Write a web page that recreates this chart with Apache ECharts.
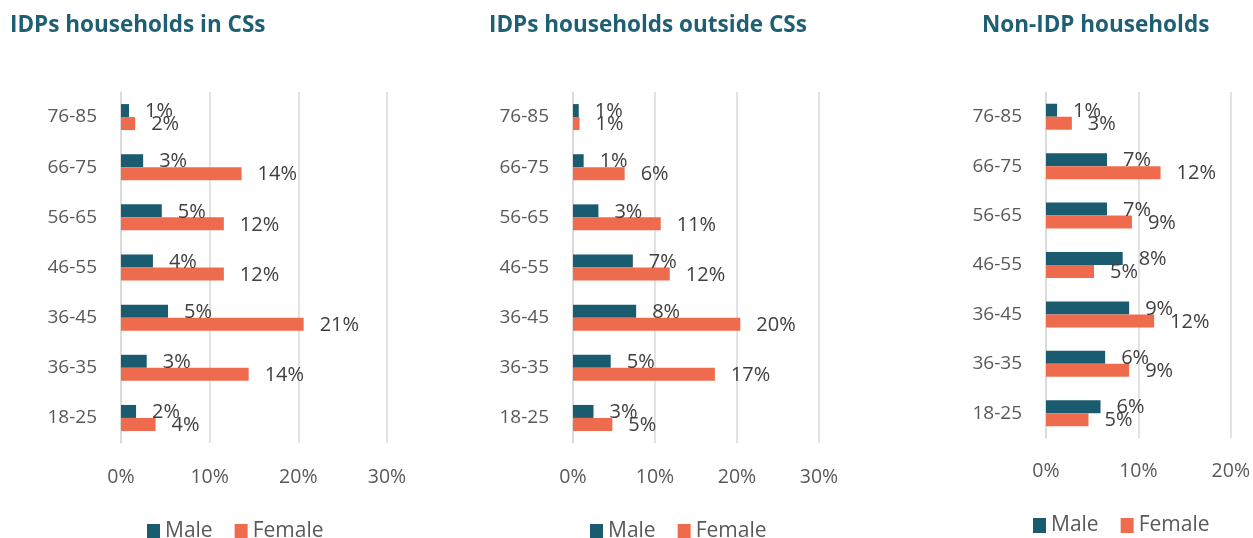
<!DOCTYPE html>
<html>
<head>
<meta charset="utf-8">
<script src="https://cdn.jsdelivr.net/npm/echarts@6/dist/echarts.min.js"></script>
<style>
  html, body { margin: 0; padding: 0; background: #fff; }
  #main { width: 1253px; height: 538px; }
</style>
</head>
<body>
<div id="main"></div>
<script>
// age groups, bottom to top
var ageGroups = ['18-25', '36-35', '36-45', '46-55', '56-65', '66-75', '76-85']
var panelTitles = ['IDPs households in CSs', 'IDPs households outside CSs', 'Non-IDP households']
var axisMax = [30, 30, 20]

// shares in %
var maleInCS = [1.7, 2.9, 5.3, 3.6, 4.6, 2.5, 0.9]
var femaleInCS = [3.9, 14.4, 20.6, 11.6, 11.6, 13.6, 1.6]
var maleOutCS = [2.5, 4.6, 7.7, 7.3, 3.1, 1.3, 0.7]
var femaleOutCS = [4.8, 17.3, 20.4, 11.8, 10.7, 6.3, 0.8]
var maleNonIDP = [5.9, 6.4, 9.0, 8.3, 6.6, 6.6, 1.2]
var femaleNonIDP = [4.6, 9.0, 11.7, 5.2, 9.3, 12.4, 2.8]

var maleData = [maleInCS, maleOutCS, maleNonIDP]
var femaleData = [femaleInCS, femaleOutCS, femaleNonIDP]

var MALE = '#1b5b6f'
var FEMALE = '#ee6c4d'
var FONT = 'Open Sans'

// panel layout
var grids = [
  { left: 121, width: 266, top: 92, height: 351 },
  { left: 573, width: 246, top: 92, height: 351 },
  { left: 1046, width: 186, top: 92, height: 346 }
]
var titleLeft = [5, 484, 977]
var legendLeft = [142, 585, 1028]
var legendTop = [516, 516, 510]

var title = [], xAxis = [], yAxis = [], legend = [], series = []
for (var i = 0; i < 3; i++) {
  title.push({
    text: panelTitles[i],
    left: titleLeft[i],
    top: 9,
    textStyle: { color: '#1f5f74', fontSize: 22.5, fontWeight: 'bold', fontFamily: FONT }
  })
  xAxis.push({
    type: 'value',
    gridIndex: i,
    min: 0,
    max: axisMax[i],
    interval: 10,
    axisLine: { show: false },
    axisTick: { show: false },
    splitLine: { lineStyle: { color: '#d9d9d9', width: 1.5 } },
    axisLabel: {
      color: '#595959',
      fontSize: 19.5,
      fontFamily: FONT,
      margin: i === 2 ? 23 : 24,
      formatter: function (v) { return v + '%' }
    }
  })
  yAxis.push({
    type: 'category',
    gridIndex: i,
    data: ageGroups,
    axisLine: { show: true, lineStyle: { color: '#d9d9d9', width: 1.5 } },
    axisTick: { show: false },
    axisLabel: { color: '#595959', fontSize: 19, fontFamily: FONT, margin: 24 }
  })
  legend.push({
    data: ['Male', 'Female'],
    left: legendLeft[i],
    top: legendTop[i],
    itemWidth: 13,
    itemHeight: 15,
    itemGap: 22,
    icon: 'rect',
    textStyle: { color: '#595959', fontSize: 21, fontFamily: FONT }
  })
  var lbl = {
    show: true,
    position: 'right',
    distance: 16,
    offset: [0, 1],
    color: '#404040',
    fontSize: 20,
    fontFamily: FONT,
    formatter: function (p) { return Math.round(p.value) + '%' }
  }
  series.push({
    name: 'Male',
    type: 'bar',
    xAxisIndex: i,
    yAxisIndex: i,
    barWidth: 13,
    barGap: 0,
    itemStyle: { color: MALE },
    label: lbl,
    data: maleData[i]
  })
  series.push({
    name: 'Female',
    type: 'bar',
    xAxisIndex: i,
    yAxisIndex: i,
    barWidth: 13,
    barGap: 0,
    itemStyle: { color: FEMALE },
    label: lbl,
    data: femaleData[i]
  })
}

var chart = echarts.init(document.getElementById('main'))
chart.setOption({
  animation: false,
  backgroundColor: '#fff',
  title: title,
  grid: grids,
  xAxis: xAxis,
  yAxis: yAxis,
  legend: legend,
  series: series
})
</script>
</body>
</html>
